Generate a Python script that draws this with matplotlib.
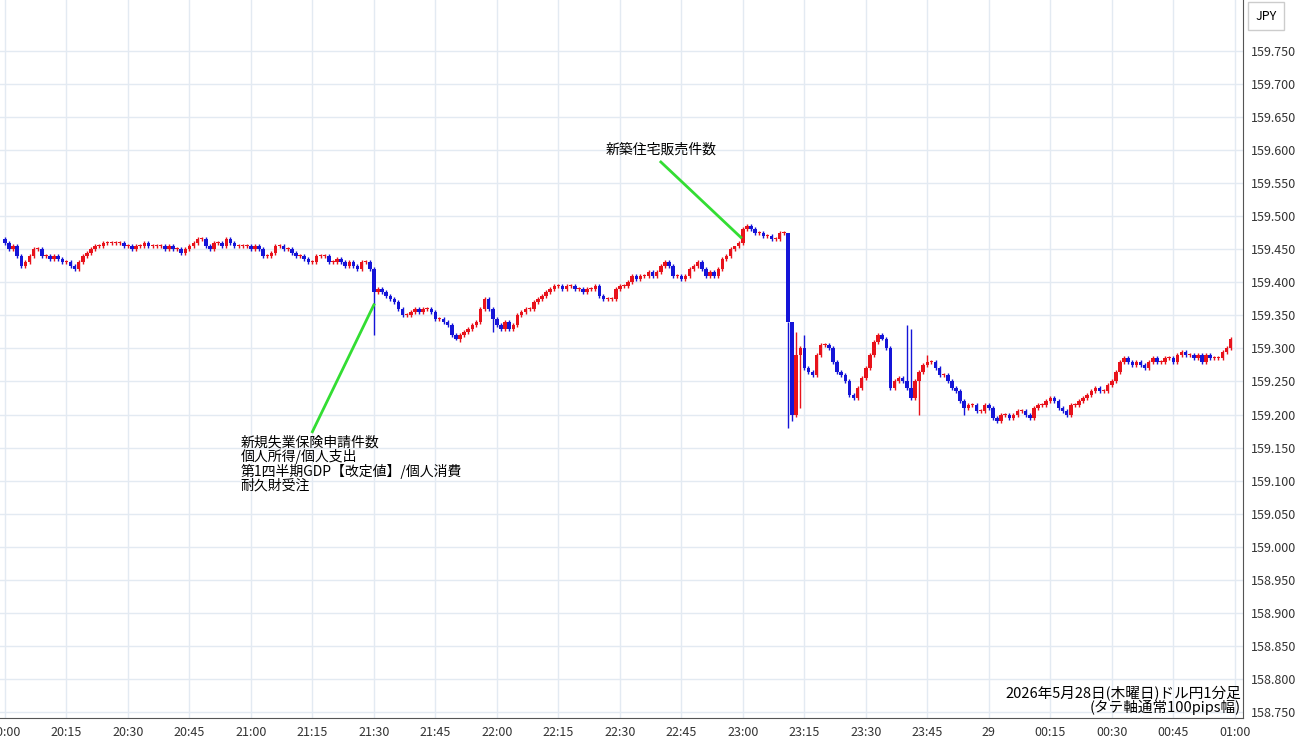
import numpy as np
import matplotlib.pyplot as plt
from matplotlib.ticker import FixedLocator

plt.rcParams['font.family'] = ['Noto Sans CJK JP', 'DejaVu Sans']

# 1分足の終値 (20:00 - 00:59)
closes = [
    159.46, 159.45, 159.455, 159.44, 159.425, 159.43, 159.44, 159.45, 159.45, 159.44, 159.44, 159.435, 159.44, 159.435, 159.43,
    159.43, 159.425, 159.42, 159.43, 159.44, 159.445, 159.45, 159.455, 159.455, 159.46, 159.46, 159.46, 159.46, 159.46, 159.455,
    159.455, 159.45, 159.455, 159.455, 159.46, 159.455, 159.455, 159.455, 159.455, 159.45, 159.455, 159.45, 159.45, 159.445, 159.45,
    159.455, 159.46, 159.465, 159.465, 159.455, 159.45, 159.46, 159.46, 159.455, 159.465, 159.46, 159.455, 159.455, 159.455, 159.455,
    159.45, 159.455, 159.45, 159.44, 159.44, 159.445, 159.455, 159.455, 159.45, 159.45, 159.445, 159.44, 159.44, 159.435, 159.43,
    159.43, 159.44, 159.44, 159.44, 159.43, 159.43, 159.435, 159.43, 159.425, 159.43, 159.425, 159.42, 159.43, 159.43, 159.42,
    159.385, 159.39, 159.385, 159.38, 159.375, 159.37, 159.36, 159.35, 159.35, 159.355, 159.36, 159.355, 159.36, 159.36, 159.355,
    159.345, 159.345, 159.34, 159.335, 159.32, 159.315, 159.32, 159.325, 159.33, 159.335, 159.34, 159.36, 159.375, 159.36, 159.345,
    159.335, 159.33, 159.34, 159.33, 159.335, 159.35, 159.355, 159.36, 159.36, 159.37, 159.375, 159.38, 159.385, 159.39, 159.395,
    159.395, 159.39, 159.395, 159.395, 159.39, 159.39, 159.385, 159.39, 159.39, 159.395, 159.38, 159.375, 159.375, 159.375, 159.39,
    159.395, 159.395, 159.40, 159.41, 159.405, 159.41, 159.41, 159.415, 159.41, 159.415, 159.425, 159.43, 159.425, 159.41, 159.41,
    159.405, 159.41, 159.42, 159.425, 159.43, 159.42, 159.41, 159.415, 159.41, 159.42, 159.435, 159.44, 159.45, 159.455, 159.46,
    159.48, 159.485, 159.48, 159.475, 159.475, 159.47, 159.47, 159.465, 159.465, 159.475, 159.475, 159.34, 159.20, 159.29, 159.30,
    159.27, 159.265, 159.26, 159.29, 159.305, 159.305, 159.30, 159.28, 159.265, 159.26, 159.25, 159.23, 159.225, 159.24, 159.255,
    159.27, 159.29, 159.31, 159.32, 159.315, 159.30, 159.24, 159.25, 159.255, 159.25, 159.24, 159.225, 159.25, 159.265, 159.275,
    159.28, 159.28, 159.27, 159.26, 159.26, 159.25, 159.24, 159.235, 159.22, 159.21, 159.215, 159.215, 159.205, 159.205, 159.215,
    159.21, 159.195, 159.19, 159.20, 159.20, 159.195, 159.20, 159.205, 159.205, 159.20, 159.195, 159.21, 159.215, 159.215, 159.22,
    159.225, 159.22, 159.21, 159.205, 159.20, 159.215, 159.215, 159.22, 159.225, 159.23, 159.235, 159.24, 159.235, 159.235, 159.245,
    159.25, 159.265, 159.28, 159.285, 159.28, 159.275, 159.28, 159.275, 159.27, 159.28, 159.285, 159.28, 159.28, 159.285, 159.285,
    159.28, 159.29, 159.295, 159.29, 159.29, 159.285, 159.29, 159.28, 159.29, 159.285, 159.285, 159.285, 159.295, 159.30, 159.315,
]
first_open = 159.465
# 目立つヒゲ (分インデックス: 値)
long_lows = {90: 159.32, 191: 159.18, 192: 159.19, 194: 159.21, 111: 159.31, 119: 159.325, 223: 159.20, 234: 159.20}
long_highs = {191: 159.34, 192: 159.335, 193: 159.325, 195: 159.32, 178: 159.455, 220: 159.335, 221: 159.33, 225: 159.29}

xtick_pos = [0, 15, 30, 45, 60, 75, 90, 105, 120, 135, 150, 165, 180, 195, 210, 225, 240, 255, 270, 285, 300]
xtick_labels = ['20:00', '20:15', '20:30', '20:45', '21:00', '21:15', '21:30', '21:45', '22:00', '22:15',
                '22:30', '22:45', '23:00', '23:15', '23:30', '23:45', '29', '00:15', '00:30', '00:45', '01:00']
yticks = np.round(np.arange(158.75, 159.751, 0.05), 3)

closes = np.array(closes)
opens = np.concatenate([[first_open], closes[:-1]])
n = len(closes)
x = np.arange(n)

fig = plt.figure(figsize=(13, 7.45), dpi=100)
ax = fig.add_axes([0, 1 - 718 / 745, 1243 / 1300, 718 / 745])

for i in range(n):
    o, c = opens[i], closes[i]
    col = '#e8121b' if c >= o else '#1515d8'
    hi = long_highs.get(i, max(o, c) + 0.003)
    lo = long_lows.get(i, min(o, c) - 0.003)
    ax.vlines(x[i], lo, hi, color=col, lw=1)
    body = max(abs(c - o), 0.0015)
    ax.bar(x[i], body, bottom=min(o, c), width=0.85, color=col, linewidth=0)

ax.set_xlim(-1.2, 302)
ax.set_ylim(158.741, 159.827)
ax.yaxis.tick_right()
ax.yaxis.set_major_locator(FixedLocator(yticks))
ax.set_yticklabels([f'{v:.3f}' for v in yticks])
ax.set_xticks(xtick_pos)
ax.set_xticklabels(xtick_labels)
ax.tick_params(length=0, labelsize=9, colors='#333333', pad=6)
ax.grid(color='#e3eaf2', lw=1)
ax.set_axisbelow(True)
for s in ['top', 'left']:
    ax.spines[s].set_visible(False)
ax.spines['right'].set_color('#555555')
ax.spines['bottom'].set_color('#555555')

fig.text(1266 / 1300, 1 - 16 / 745, 'JPY', fontsize=9, ha='center', va='center',
         bbox=dict(boxstyle='square,pad=0.6', fc='white', ec='#cccccc'))

# イベント注記
ax.plot([90, 75], [159.366, 159.174], color='#33dd33', lw=2)
ax.text(57.5, 159.168, '新規失業保険申請件数\n個人所得/個人支出\n第1四半期GDP【改定値】/個人消費\n耐久財受注',
        fontsize=10, va='top', ha='left', linespacing=0.95)
ax.plot([179.5, 160], [159.468, 159.582], color='#33dd33', lw=2)
ax.text(160, 159.59, '新築住宅販売件数', fontsize=10, ha='center', va='bottom')

ax.text(301.5, 158.745, '2026年5月28日(木曜日)ドル円1分足\n(タテ軸通常100pips幅)', fontsize=10.5,
        ha='right', va='bottom', linespacing=0.9)

fig.savefig('out.png', dpi=100)
